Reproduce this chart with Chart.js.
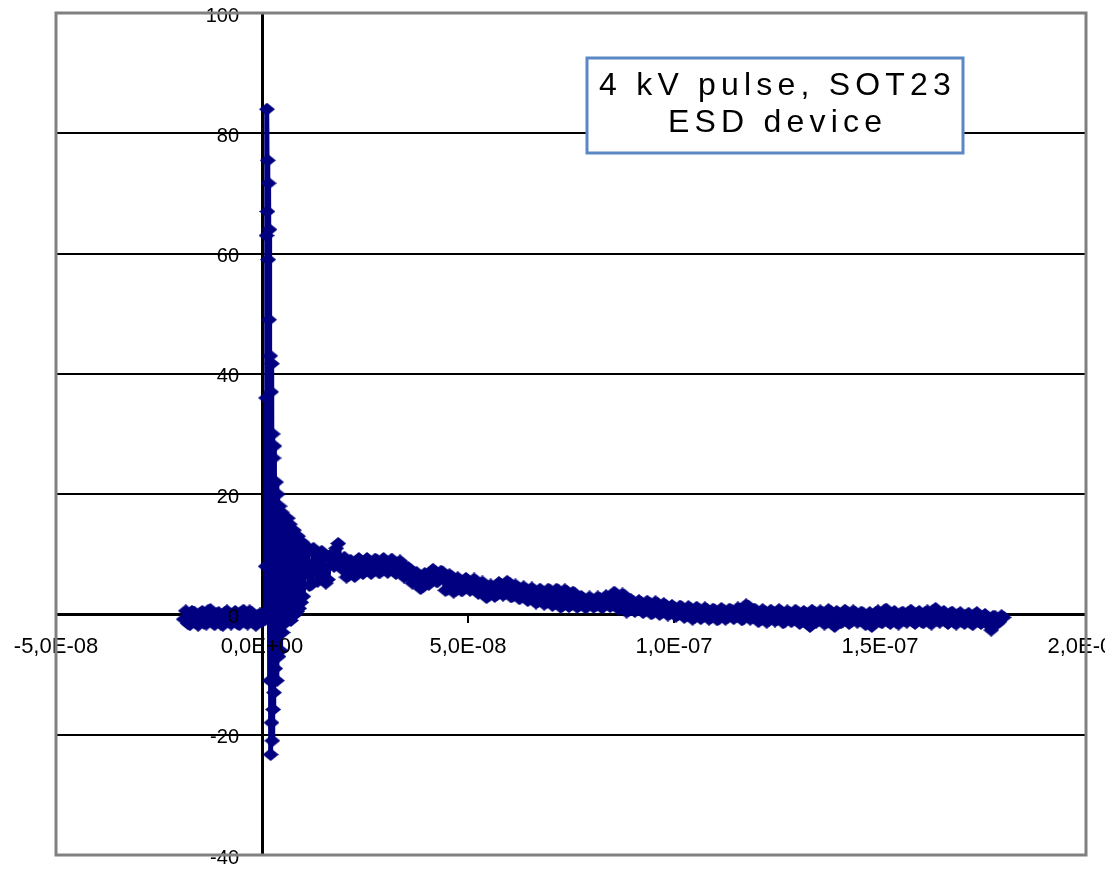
<!DOCTYPE html>
<html>
<head>
<meta charset="utf-8">
<script src="https://cdn.jsdelivr.net/npm/chart.js@4/dist/chart.umd.min.js"></script>
<style>
html,body{margin:0;padding:0;background:#fff;}
#wrap{width:1105px;height:870px;}
</style>
</head>
<body>
<div id="wrap"><canvas id="c" width="1105" height="870"></canvas></div>
<script>
// ---- data (time in ns, signal value) ----
// main samples
const timeNs = [
 -19,-18,-17,-16,-15,-14,-13,-12,-11,-10,-9,-8,-7,-6,-5,-4,-3,-2,-1,0,0.5,0.8,
 0.9,1.0,1.1,1.2,1.3,1.4,1.5,1.6,1.7,1.8,1.9,2.0,2.1,2.2,2.3,2.4,2.5,2.6,2.7,2.8,2.9,3.0,
 3.2,3.4,3.6,3.8,4.0,4.25,4.5,4.75,5.0,5.25,5.5,5.75,6.0,6.25,6.5,6.75,7.0,7.25,7.5,7.75,
 8.0,8.25,8.5,8.75,9.0,9.25,9.5,9.75,10,
 11,12,13,14,15,16,17,18,19,20,21,22,23,24,25,26,27,28,29,30,
 31,32,33,34,35,36,37,38,39,40,41,42,43,44,45,46,47,48,49,50,
 51,52,53,54,55,56,57,58,59,60,61,62,63,64,65,66,67,68,69,70,
 71,72,73,74,75,76,77,78,79,80,81,82,83,84,85,86,87,88,89,90,
 91,92,93,94,95,96,97,98,99,100,101,102,103,104,105,106,107,108,109,110,
 111,112,113,114,115,116,117,118,119,120,121,122,123,124,125,126,127,128,129,130,
 131,132,133,134,135,136,137,138,139,140,141,142,143,144,145,146,147,148,149,150,
 151,152,153,154,155,156,157,158,159,160,161,162,163,164,165,166,167,168,169,170,
 171,172,173,174,175,176,177,178,179,180
];
const signal = [
 -0.8,-1.5,0.5,-1.4,0.2,-1.5,0.7,-1.3,0.1,-1.6,0.3,-1.2,0.0,-1.5,0.4,-1.3,0.6,-1.4,-0.2,-1.2,0.2,-0.8,
 8,36,63,84,67,75.5,59,71.7,49,64,-11,43,-23.3,37,-18,41.7,-21,30,-15.8,26,-13,28,
 -9,22,-11,20,-7,18,-6,17,-3,16,-1.5,15,-1,16,-0.5,15,-1,14,0,14,
 0,13,0.5,13,1,12,2,12,3,
 10.5,5,10,6.5,9.5,5.8,9,11,8.5,9.5,6.5,8.5,6.8,8.6,7.3,8.8,7.4,8.9,7.3,8.8,
 7.5,8.7,7.2,8.4,6.5,7.4,5.7,6.5,4.6,6.3,5.5,7.1,5.8,6.9,4.2,6.3,4,5.7,4.3,5.6,
 4.4,5.5,3.8,5,3.1,4.5,3.3,4.9,3.5,5.2,3.2,4.5,3,4.2,2.6,4,2.2,3.8,2,3.9,
 1.8,3.9,1.5,3.8,1.6,3.4,1.5,2.6,1.4,2.5,1.5,2.6,1.4,2.8,1.6,3.3,1.2,3.1,0.7,2.2,
 0.8,2,0.6,1.9,0.4,1.8,0.3,1.5,0.2,1.2,0,1.1,-0.2,1,-0.5,0.9,-0.4,0.8,-0.5,0.6,
 -0.6,0.7,-0.5,0.6,-0.4,0.8,-0.6,1.4,-0.5,0.6,-0.9,0.5,-1,0.4,-0.8,0.5,-1.1,0.3,-0.9,0.4,
 -1.2,0.2,-2,0.4,-1,0.3,-1.3,0.5,-2,0.2,-1.1,0.4,-1.2,0.3,-1,0.1,-1.4,-2,0.3,-1.1,
 0.6,-1.2,0.2,-1.3,0.1,-1,0.4,-1.2,0.2,-1.1,0.3,-1.3,0.7,-1,0.2,-1.2,0.1,-1.3,0,-1.2,
 -0.1,-1.4,0,-1.2,-0.3,-1.5,-2.6,-0.4,-1.2,-0.5
];
// in-between samples (half-ns offsets)
const timeNsMid = [
 -18.5,-17.5,-16.5,-15.5,-14.5,-13.5,-12.5,-11.5,-10.5,-9.5,-8.5,-7.5,-6.5,-5.5,-4.5,-3.5,-2.5,-1.5,-0.5,
 10.5,11.5,12.5,13.5,14.5,15.5,16.5,17.5,18.5,19.5,20.5,21.5,22.5,23.5,24.5,25.5,26.5,27.5,28.5,29.5,
 30.5,31.5,32.5,33.5,34.5,35.5,36.5,37.5,38.5,39.5,40.5,41.5,42.5,43.5,44.5,45.5,46.5,47.5,48.5,49.5,
 50.5,51.5,52.5,53.5,54.5,55.5,56.5,57.5,58.5,59.5,60.5,61.5,62.5,63.5,64.5,65.5,66.5,67.5,68.5,69.5,
 70.5,71.5,72.5,73.5,74.5,75.5,76.5,77.5,78.5,79.5,80.5,81.5,82.5,83.5,84.5,85.5,86.5,87.5,88.5,89.5,
 90.5,91.5,92.5,93.5,94.5,95.5,96.5,97.5,98.5,99.5,100.5,101.5,102.5,103.5,104.5,105.5,106.5,107.5,108.5,109.5,
 110.5,111.5,112.5,113.5,114.5,115.5,116.5,117.5,118.5,119.5,120.5,121.5,122.5,123.5,124.5,125.5,126.5,127.5,128.5,129.5,
 130.5,131.5,132.5,133.5,134.5,135.5,136.5,137.5,138.5,139.5,140.5,141.5,142.5,143.5,144.5,145.5,146.5,147.5,148.5,149.5,
 150.5,151.5,152.5,153.5,154.5,155.5,156.5,157.5,158.5,159.5,160.5,161.5,162.5,163.5,164.5,165.5,166.5,167.5,168.5,169.5,
 170.5,171.5,172.5,173.5,174.5,175.5,176.5,177.5,178.5,179.5
];
const signalMid = [
 0.6,-1.7,0.4,-1.8,0.5,-1.6,0.8,-1.7,0.3,-1.8,0.6,-1.6,0.5,-1.7,0.7,-1.6,0.3,-1.8,0.1,
 11.5,4.8,11,5.5,10.5,5.2,9.8,8,11.8,7.5,6.2,9,6.3,9.3,6.8,9.3,6.8,9.2,6.9,9.3,
 7,9.2,6.8,8.9,6.2,7.8,5.2,7,4.3,6.8,5,7.5,5.4,7.2,4,6.6,3.7,6.1,3.9,6,
 4,5.9,3.5,5.4,2.8,4.9,3,5.3,3.2,5.5,2.9,4.9,2.6,4.6,2.3,4.4,1.9,4.2,1.7,4.2,
 1.5,4.2,1.2,4.1,1.3,3.7,1.2,3,1.1,2.9,1.2,2.9,1.1,3.1,1.3,3.7,0.9,3.4,0.4,2.5,
 0.5,2.3,0.3,2.2,0.1,2.1,0,1.8,-0.1,1.5,-0.3,1.4,-0.5,1.3,-0.8,1.2,-0.7,1.1,-0.8,0.9,
 -0.9,1,-0.8,0.9,-0.7,1.1,-0.9,1.6,-0.8,0.9,-1.2,0.8,-1.3,0.7,-1.1,0.8,-1.4,0.6,-1.2,0.7,
 -1.5,0.5,-1.4,0.7,-1.3,0.6,-1.6,0.8,-1.4,0.5,-1.4,0.7,-1.5,0.6,-1.3,0.4,-1.7,0.3,-1.2,0.6,
 -1.4,0.9,-1.5,0.5,-1.6,0.4,-1.3,0.7,-1.5,0.5,-1.4,0.6,-1.6,1,-1.3,0.5,-1.5,0.4,-1.6,0.3,
 -1.5,0.2,-1.7,0.3,-1.5,0,-1.8,-0.3,-1.5,-0.2
];
const xTickValues = [-50, 0, 50, 100, 150, 200];
const xTickLabels = ['-5,0E-08', '0,0E+00', '5,0E-08', '1,0E-07', '1,5E-07', '2,0E-07'];
const yTickValues = [-40, -20, 0, 20, 40, 60, 80, 100];
const annotationLines = ['4 kV pulse, SOT23', 'ESD device'];

// ---- marker: navy diamond ----
const NAVY = '#000080';
const diamond = document.createElement('canvas');
diamond.width = 16; diamond.height = 13;
(function(){
  const g = diamond.getContext('2d');
  g.fillStyle = NAVY;
  g.beginPath(); g.moveTo(8,0); g.lineTo(16,6.5); g.lineTo(8,13); g.lineTo(0,6.5); g.closePath(); g.fill();
})();

const points = timeNs.map((t, i) => ({x: t, y: signal[i]}))
  .concat(timeNsMid.map((t, i) => ({x: t, y: signalMid[i]})))
  .sort((a, b) => a.x - b.x);

const FONT = '"Liberation Sans", Arial, sans-serif';
Chart.defaults.font.family = FONT;
Chart.defaults.color = '#000';

const yLabels = {
  id: 'yLabels',
  afterDatasetsDraw(chart) {
    const ctx = chart.ctx, ys = chart.scales.y, xs = chart.scales.x;
    const ax = xs.getPixelForValue(0);
    ctx.save();
    ctx.fillStyle = '#000';
    ctx.font = '20px ' + FONT;
    ctx.textAlign = 'right';
    ctx.textBaseline = 'middle';
    yTickValues.forEach(v => ctx.fillText(String(v), ax - 23, ys.getPixelForValue(v) + 3));
    ctx.restore();
  }
};

const frameAndNote = {
  id: 'frameAndNote',
  afterDraw(chart) {
    const ctx = chart.ctx, a = chart.chartArea;
    ctx.save();
    ctx.strokeStyle = '#808080';
    ctx.lineWidth = 3;
    ctx.strokeRect(a.left, a.top, a.right - a.left, a.bottom - a.top);
    // text box
    const bx = 587, by = 58, bw = 376, bh = 95;
    ctx.fillStyle = '#fff';
    ctx.fillRect(bx, by, bw, bh);
    ctx.strokeStyle = '#5B87C5';
    ctx.lineWidth = 3;
    ctx.strokeRect(bx, by, bw, bh);
    ctx.fillStyle = '#000';
    ctx.font = '32px ' + FONT;
    ctx.textBaseline = 'middle';
    ctx.textAlign = 'left';
    const spacing = 5.2;
    const cx = bx + bw / 2;
    const lineY = [86, 123];
    annotationLines.forEach((line, li) => {
      const chars = Array.from(line);
      let total = 0;
      chars.forEach((ch, i) => { total += ctx.measureText(ch).width + (i < chars.length - 1 ? spacing : 0); });
      let x = cx - total / 2;
      chars.forEach(ch => { ctx.fillText(ch, x, lineY[li]); x += ctx.measureText(ch).width + spacing; });
    });
    ctx.restore();
  }
};

new Chart(document.getElementById('c'), {
  type: 'scatter',
  data: {
    datasets: [{
      data: points,
      showLine: true,
      borderColor: NAVY,
      borderWidth: 5,
      borderJoinStyle: 'round',
      backgroundColor: NAVY,
      pointStyle: diamond,
      pointRadius: 6,
      pointHoverRadius: 6,
      tension: 0
    }]
  },
  options: {
    responsive: false,
    animation: false,
    devicePixelRatio: 1,
    layout: { padding: { left: 56, top: 13, right: 19, bottom: 15 } },
    plugins: { legend: { display: false }, tooltip: { enabled: false } },
    scales: {
      x: {
        type: 'linear',
        min: -50, max: 200,
        position: { y: 0 },
        afterFit(s) { s.paddingLeft = 0; s.paddingRight = 0; },
        afterBuildTicks(s) { s.ticks = xTickValues.map(v => ({value: v})); },
        ticks: {
          z: 1,
          autoSkip: false,
          maxRotation: 0,
          padding: 12,
          font: { size: 22 },
          color: '#000',
          callback: (v) => { const i = xTickValues.indexOf(v); return i >= 0 ? xTickLabels[i] : ''; }
        },
        grid: { drawOnChartArea: false, drawTicks: true, tickLength: 7, color: '#000', lineWidth: 2 },
        border: { display: true, color: '#000', width: 3 }
      },
      y: {
        type: 'linear',
        min: -40, max: 100,
        position: { x: 0 },
        afterFit(s) { s.paddingTop = 0; s.paddingBottom = 0; },
        afterBuildTicks(s) { s.ticks = yTickValues.map(v => ({value: v})); },
        ticks: { display: false },
        grid: { drawOnChartArea: true, drawTicks: true, tickLength: 7, color: '#000', lineWidth: 2 },
        border: { display: true, color: '#000', width: 3 }
      }
    }
  },
  plugins: [yLabels, frameAndNote]
});
</script>
</body>
</html>
